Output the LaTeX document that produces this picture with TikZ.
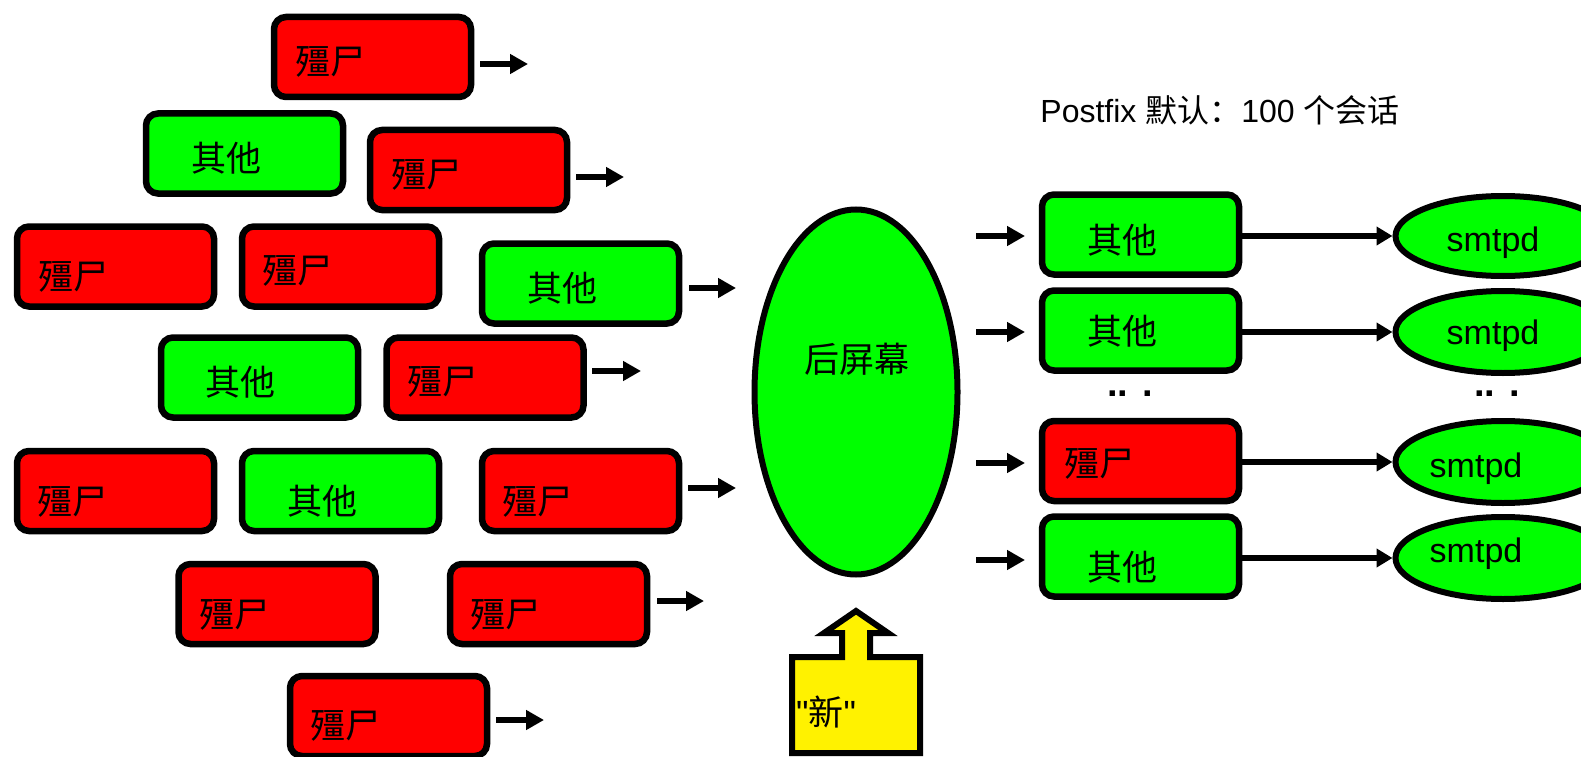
\documentclass[tikz,border=0pt]{standalone}
\usepackage{fontspec}
\setmainfont{Liberation Sans}[Ligatures=TeXOff]
\newfontfamily\cjk{Noto Sans CJK SC}
\usetikzlibrary{arrows.meta,shapes.geometric}
\begin{document}
\begin{tikzpicture}[x=1pt,y=-1pt,
  box/.style={draw=black, line width=6.5pt, rounded corners=12pt, minimum width=197pt, minimum height=80pt, inner sep=0pt},
  zbox/.style={box, fill=red},
  obox/.style={box, fill=green},
  lbl/.style={font=\cjk\fontsize{35}{40}\selectfont, inner sep=0pt},
  arr/.style={line width=5.5pt, -{Triangle[length=18pt,width=19pt]}},
  arrlong/.style={line width=5.5pt, -{Triangle[length=16pt,width=18pt]}},
  oval/.style={draw=black, ellipse, fill=green, line width=6pt, inner sep=0pt},
  smtp/.style={font=\fontsize{34}{38}\selectfont, inner sep=0pt, anchor=base},
  dotlbl/.style={font=\bfseries\fontsize{38}{42}\selectfont, inner sep=0pt, anchor=base west}
]
\useasboundingbox (0,0) rectangle (1581,757);

% ---------- left group ----------
\node[zbox] (z1) at (372.5,57) {};
\node[lbl] (t1) at (330,62) {殭尸};
\node[obox] (z2) at (244.5,153.5) {};
\node[lbl] (t2) at (226,158) {其他};
\node[zbox] (z3) at (468.5,170) {};
\node[lbl] (t3) at (426,175) {殭尸};
\node[zbox] (z4) at (115.5,266.5) {};
\node[lbl] (t4) at (73,277) {殭尸};
\node[zbox] (z5) at (340.5,266.5) {};
\node[lbl] (t5) at (297.5,270.5) {殭尸};
\node[obox] (z6) at (580.5,283.5) {};
\node[lbl] (t6) at (562,288) {其他};
\node[obox] (z7) at (259.5,377.5) {};
\node[lbl] (t7) at (240,382) {其他};
\node[zbox] (z8) at (485,377.5) {};
\node[lbl] (t8) at (442,382) {殭尸};
\node[zbox] (z9) at (115.5,491) {};
\node[lbl] (t9) at (72.5,501.5) {殭尸};
\node[obox] (z10) at (340.5,491) {};
\node[lbl] (t10) at (322,501.5) {其他};
\node[zbox] (z11) at (580.5,491) {};
\node[lbl] (t11) at (537.5,501.5) {殭尸};
\node[zbox] (z12) at (277,604) {};
\node[lbl] (t12) at (234,614.5) {殭尸};
\node[zbox] (z13) at (548.5,604) {};
\node[lbl] (t13) at (505,614.5) {殭尸};
\node[zbox] (z14) at (388.5,716) {};
\node[lbl] (t14) at (345,725.5) {殭尸};

% short arrows on the left
\coordinate (a1s) at (480,64);  \coordinate (a1e) at (528,64);
\coordinate (a3s) at (576,177); \coordinate (a3e) at (624,177);
\coordinate (a6s) at (689,288); \coordinate (a6e) at (736,288);
\coordinate (a8s) at (592,371); \coordinate (a8e) at (641,371);
\coordinate (a11s) at (688,488); \coordinate (a11e) at (736,488);
\coordinate (a13s) at (657,601); \coordinate (a13e) at (704,601);
\coordinate (a14s) at (496,720); \coordinate (a14e) at (544,720);
\foreach \a in {a1,a3,a6,a8,a11,a13,a14}{\draw[arr] (\a s) -- (\a e);}

% ---------- centre ----------
\node[oval, minimum width=203pt, minimum height=365pt] (bs) at (856,392) {};
\node[lbl] (bst) at (857,359) {后屏幕};

\draw[line width=6pt, fill=yellow] (856,611) -- (888,633) -- (870,633) -- (870,657)
  -- (920,657) -- (920,753) -- (792,753) -- (792,657) -- (842,657) -- (842,633)
  -- (824,633) -- cycle;
\node[font=\fontsize{35}{40}\selectfont, inner sep=0pt] (new) at (826,712) {"{\cjk 新}"};

% ---------- right ----------
\node[font=\fontsize{32}{38}\selectfont, inner sep=0pt] (title) at (1220,110) {Postfix {\cjk 默认：}100 {\cjk 个会话}};

\node[obox] (rA) at (1140.5,234.5) {};
\node[lbl] (rAt) at (1122,240) {其他};
\node[obox] (rB) at (1140.5,330.5) {};
\node[lbl] (rBt) at (1122,331) {其他};
\node[zbox] (rC) at (1140.5,461) {};
\node[lbl] (rCt) at (1099,464) {殭尸};
\node[obox] (rD) at (1140.5,556.5) {};
\node[lbl] (rDt) at (1122,567) {其他};

\node[oval, minimum width=215pt, minimum height=80pt] (sA) at (1503,236) {};
\node[smtp] (sAt) at (1493,251) {smtpd};
\node[oval, minimum width=215pt, minimum height=82pt] (sB) at (1503,332) {};
\node[smtp] (sBt) at (1493,344) {smtpd};
\node[oval, minimum width=215pt, minimum height=82pt] (sC) at (1503,462) {};
\node[smtp] (sCt) at (1476,477) {smtpd};
\node[oval, minimum width=215pt, minimum height=82pt] (sD) at (1503,558) {};
\node[smtp] (sDt) at (1476,562) {smtpd};

\node[dotlbl] (d1) at (1107,396) {.. .};
\node[dotlbl] (d2) at (1474,396) {.. .};

\coordinate (bAs) at (976,236); \coordinate (bAe) at (1025,236);
\coordinate (bBs) at (976,332); \coordinate (bBe) at (1025,332);
\coordinate (bCs) at (976,463); \coordinate (bCe) at (1025,463);
\coordinate (bDs) at (976,560); \coordinate (bDe) at (1025,560);
\foreach \a in {bA,bB,bC,bD}{\draw[arr] (\a s) -- (\a e);}

\draw[arrlong] (rA.east |- sA.west) -- (sA.west);
\draw[arrlong] (rB.east |- sB.west) -- (sB.west);
\draw[arrlong] (rC.east |- sC.west) -- (sC.west);
\draw[arrlong] (rD.east |- sD.west) -- (sD.west);
\end{tikzpicture}
\end{document}
